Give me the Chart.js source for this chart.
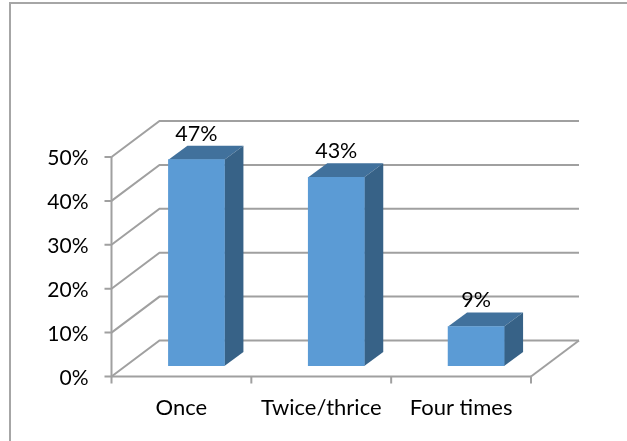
<!DOCTYPE html>
<html>
<head>
<meta charset="utf-8">
<script src="https://cdn.jsdelivr.net/npm/chart.js@4/dist/chart.umd.min.js"></script>
<style>
  html, body { margin: 0; padding: 0; background: #fff; overflow: hidden; }
  #frame { position: absolute; left: 9px; top: 2px; width: 640px; height: 460px; border: 2px solid #a6a6a6; box-sizing: border-box; }
  #wrap { position: absolute; left: 0; top: 0; width: 627px; height: 441px; }
</style>
</head>
<body>
<div id="frame"></div>
<div id="wrap"><canvas id="chart" width="627" height="441"></canvas></div>
<script>
const categories = ['Once', 'Twice/thrice', 'Four times'];
const percentValues = [47, 43, 9];
const tickStep = 10;
const axisMax = 50;

const GRID = '#a0a0a0';
// oblique depth of the floor and of the bars
const wallDx = 48, wallDy = -36;
const barDx = 19, barDy = -14;
const barShiftX = 15, barShiftY = -10.5;

const wall3d = {
  id: 'wall3d',
  beforeDatasetsDraw(chart) {
    const {ctx} = chart;
    const x = chart.scales.x, y = chart.scales.y;
    ctx.save();
    ctx.strokeStyle = GRID;
    ctx.lineWidth = 2;
    y.ticks.forEach(t => {
      const py = y.getPixelForValue(t.value);
      ctx.beginPath();
      ctx.moveTo(x.left, py);
      ctx.lineTo(x.left + wallDx, py + wallDy);
      ctx.lineTo(x.right + wallDx, py + wallDy);
      ctx.stroke();
    });
    // floor edge on the right
    const base = y.getPixelForValue(0);
    ctx.beginPath();
    ctx.moveTo(x.right, base);
    ctx.lineTo(x.right + wallDx, base + wallDy);
    ctx.stroke();
    // axis lines and ticks
    ctx.beginPath();
    ctx.moveTo(x.left, y.top);
    ctx.lineTo(x.left, base + 7);
    ctx.moveTo(x.left - 7, base);
    ctx.lineTo(x.right, base);
    for (let i = 0; i <= categories.length; i++) {
      const px = x.left + (x.right - x.left) * i / categories.length;
      ctx.moveTo(px, base);
      ctx.lineTo(px, base + 7);
    }
    y.ticks.forEach(t => {
      const py = y.getPixelForValue(t.value);
      ctx.moveTo(x.left - 7, py);
      ctx.lineTo(x.left, py);
    });
    ctx.stroke();
    ctx.restore();
    // bars sit forward of the axis corner, shift them while the library draws
    ctx.save();
    ctx.translate(barShiftX, barShiftY);
    chart.getDatasetMeta(0).data.forEach(bar => {
      const l = bar.x - bar.width / 2, r = bar.x + bar.width / 2;
      ctx.fillStyle = '#41719c';
      ctx.beginPath();
      ctx.moveTo(l, bar.y);
      ctx.lineTo(l + barDx, bar.y + barDy);
      ctx.lineTo(r + barDx, bar.y + barDy);
      ctx.lineTo(r, bar.y);
      ctx.closePath();
      ctx.fill();
      ctx.fillStyle = '#376287';
      ctx.beginPath();
      ctx.moveTo(r, bar.y);
      ctx.lineTo(r + barDx, bar.y + barDy);
      ctx.lineTo(r + barDx, bar.base + barDy);
      ctx.lineTo(r, bar.base);
      ctx.closePath();
      ctx.fill();
    });
  },
  afterDatasetsDraw(chart) {
    const {ctx} = chart;
    ctx.restore();
    ctx.save();
    ctx.font = '21.5px Lato';
    ctx.fillStyle = '#000';
    ctx.textAlign = 'center';
    ctx.textBaseline = 'middle';
    chart.getDatasetMeta(0).data.forEach((bar, i) => {
      ctx.fillText(percentValues[i] + '%', bar.x + barShiftX, bar.y + barShiftY - 26);
    });
    ctx.restore();
  }
};

new Chart(document.getElementById('chart').getContext('2d'), {
  type: 'bar',
  data: {
    labels: categories,
    datasets: [{
      data: percentValues,
      backgroundColor: '#5b9bd5',
      barThickness: 56
    }]
  },
  options: {
    responsive: false,
    animation: false,
    layout: { padding: { left: 7.5, right: 96, top: 157 } },
    plugins: { legend: { display: false }, tooltip: { enabled: false } },
    scales: {
      x: {
        grid: { display: false },
        border: { display: false },
        ticks: { color: '#000', font: { family: 'Lato', size: 22 }, padding: 10, maxRotation: 0 },
        afterFit(s) { s.height = 441 - 376.5; }
      },
      y: {
        min: 0,
        max: axisMax,
        grid: { display: false },
        border: { display: false },
        ticks: {
          stepSize: tickStep,
          color: '#000',
          font: { family: 'Lato', size: 21 },
          padding: 15,
          labelOffset: 1.5,
          callback: v => v + '%'
        },
        afterFit(s) { s.width = 104; }
      }
    }
  },
  plugins: [wall3d]
});
</script>
</body>
</html>
